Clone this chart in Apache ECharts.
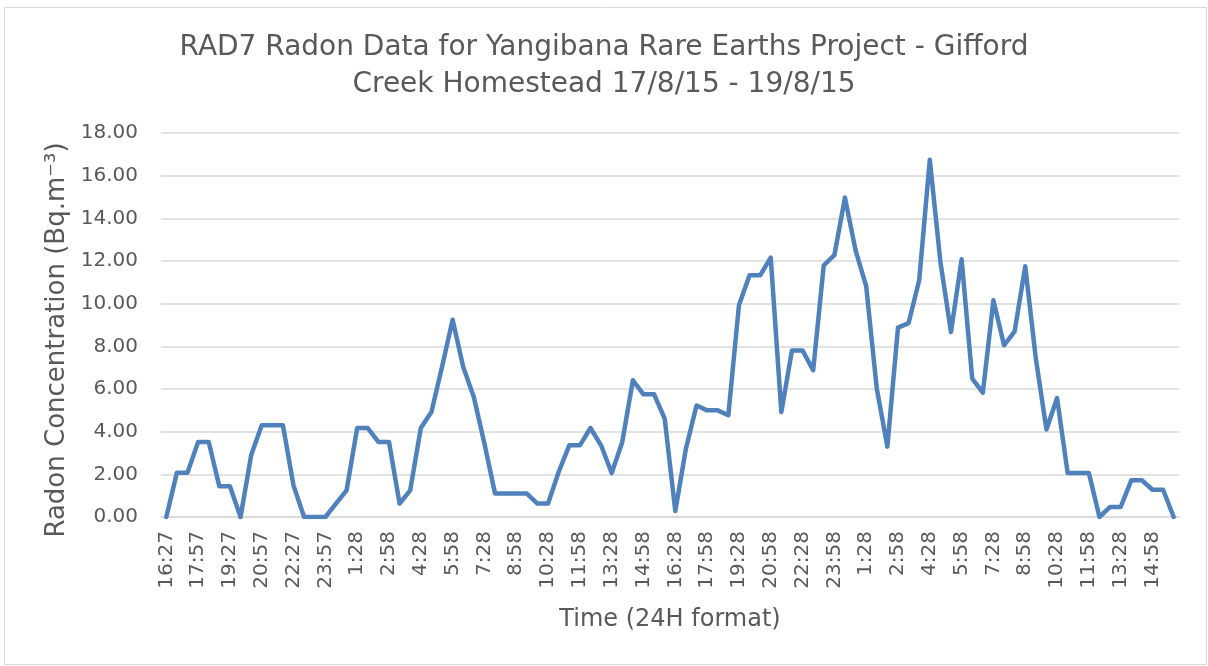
<!DOCTYPE html>
<html>
<head>
<meta charset="utf-8">
<script src="https://cdn.jsdelivr.net/npm/echarts@6/dist/echarts.min.js"></script>
<style>
    html, body { margin: 0; padding: 0; background: #fff; }
    #chart { width: 1208px; height: 666px; }
</style>
</head>
<body>
<div id="chart"></div>
<script>
// time stamps (every 30 min)
const times = [
    '16:27', '16:57', '17:27', '17:57', '18:27', '18:57', '19:27', '19:57', '20:27', '20:57', '21:27', '21:57',
    '22:27', '22:57', '23:27', '23:57', '0:28', '0:58', '1:28', '1:58', '2:28', '2:58', '3:28', '3:58',
    '4:28', '4:58', '5:28', '5:58', '6:28', '6:58', '7:28', '7:58', '8:28', '8:58', '9:28', '9:58',
    '10:28', '10:58', '11:28', '11:58', '12:28', '12:58', '13:28', '13:58', '14:28', '14:58', '15:28', '15:58',
    '16:28', '16:58', '17:28', '17:58', '18:28', '18:58', '19:28', '19:58', '20:28', '20:58', '21:28', '21:58',
    '22:28', '22:58', '23:28', '23:58', '0:28', '0:58', '1:28', '1:58', '2:28', '2:58', '3:28', '3:58',
    '4:28', '4:58', '5:28', '5:58', '6:28', '6:58', '7:28', '7:58', '8:28', '8:58', '9:28', '9:58',
    '10:28', '10:58', '11:28', '11:58', '12:28', '12:58', '13:28', '13:58', '14:28', '14:58', '15:28', '15:58'
]
// radon concentration (Bq.m-3)
const radon = [
    0, 2.08, 2.08, 3.52, 3.52, 1.44, 1.44, 0, 2.89, 4.30, 4.30, 4.30,
    1.47, 0, 0, 0, 0.63, 1.25, 4.17, 4.17, 3.52, 3.52, 0.63, 1.25,
    4.17, 4.92, 7.03, 9.25, 7.03, 5.63, 3.44, 1.10, 1.10, 1.10, 1.10, 0.63,
    0.63, 2.11, 3.36, 3.36, 4.17, 3.36, 2.06, 3.52, 6.41, 5.75, 5.75, 4.61,
    0.28, 3.20, 5.23, 5.00, 5.00, 4.77, 9.92, 11.33, 11.33, 12.16, 4.92, 7.81,
    7.81, 6.88, 11.80, 12.27, 14.97, 12.50, 10.82, 6.02, 3.30, 8.88, 9.09, 11.10,
    16.75, 11.96, 8.67, 12.08, 6.49, 5.83, 10.16, 8.05, 8.70, 11.75, 7.42, 4.10,
    5.58, 2.06, 2.06, 2.06, 0, 0.47, 0.47, 1.72, 1.72, 1.28, 1.28, 0
]

const font = 'DejaVu Sans'
const grey = '#595959'

const chart = echarts.init(document.getElementById('chart'))
chart.setOption({
    animation: false,
    textStyle: { fontFamily: font },
    title: {
        text: 'RAD7 Radon Data for Yangibana Rare Earths Project - Gifford\nCreek Homestead 17/8/15 - 19/8/15',
        left: 'center',
        top: 24,
        textStyle: {
            fontFamily: font,
            fontSize: 28,
            fontWeight: 'normal',
            color: grey,
            lineHeight: 37
        }
    },
    graphic: [{
        type: 'rect',
        shape: { x: 4.5, y: 7.5, width: 1202, height: 657 },
        style: { fill: 'none', stroke: '#d9d9d9', lineWidth: 1 },
        silent: true
    }],
    grid: {
        left: 161,
        right: 29,
        top: 133,
        bottom: 149
    },
    xAxis: {
        type: 'category',
        data: times,
        boundaryGap: true,
        name: 'Time (24H format)',
        nameLocation: 'middle',
        nameGap: 91,
        nameTextStyle: { fontSize: 24, color: grey, fontFamily: font },
        axisLine: { lineStyle: { color: '#d9d9d9', width: 1.5 } },
        axisTick: { show: false },
        axisLabel: {
            interval: 2,
            rotate: 90,
            margin: 14,
            fontSize: 20,
            color: grey,
            fontFamily: font
        },
        splitLine: { show: false }
    },
    yAxis: {
        type: 'value',
        min: 0,
        max: 18,
        interval: 2,
        name: 'Radon Concentration (Bq.m⁻³)',
        nameLocation: 'middle',
        nameGap: 90,
        nameTextStyle: { fontSize: 26, color: grey, fontFamily: font, padding: [0, 30, 0, 0] },
        axisLine: { show: false },
        axisTick: { show: false },
        axisLabel: {
            margin: 23,
            fontSize: 20,
            color: grey,
            fontFamily: font,
            formatter: v => v.toFixed(2)
        },
        splitLine: { lineStyle: { color: '#d9d9d9', width: 1.5 } }
    },
    series: [{
        type: 'line',
        data: radon,
        symbol: 'none',
        lineStyle: { color: '#4f81bd', width: 4.5, join: 'round', cap: 'round' }
    }]
})
</script>
</body>
</html>
